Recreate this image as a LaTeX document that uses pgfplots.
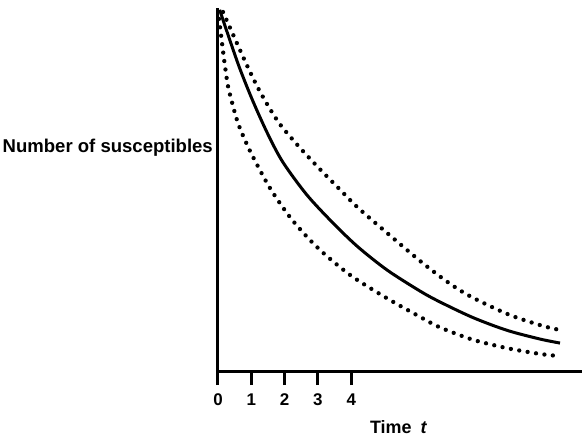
\documentclass[border=0pt]{standalone}
\usepackage{fontspec}
\setmainfont{Liberation Sans}
\usepackage{pgfplots}
\pgfplotsset{compat=1.18}
\begin{document}
\begin{tikzpicture}
\begin{axis}[
  scale only axis,
  width=364bp, height=363bp,
  xmin=0, xmax=10.93, ymin=0, ymax=100,
  axis lines=left,
  axis line style={-, line width=3bp, black},
  xtick={0,1,2,3,4},
  ytick=\empty,
  xtick align=outside,
  major tick length=14bp,
  every tick/.style={black, line width=3bp},
  xticklabel style={font=\fontsize{17}{19}\selectfont\bfseries, yshift=-5bp},
  /pgf/number format/assume math mode=true,
  clip=false,
]
\addplot[black, line width=3bp, smooth, tension=0.5] coordinates {
(0.05,99.5) (0.35,91.3) (0.66,83.2) (1.05,74.3) (1.5,65.2) (1.95,57.5)
(2.67,48.5) (3.45,40.8) (4.2,34.2) (5.08,27.8) (6.07,22.0) (6.67,19.0)
(7.66,14.7) (8.68,11.2) (9.67,8.8) (10.27,7.7)};
\addplot[black, line width=4.3bp, line cap=round, dash pattern=on 0pt off 8.5bp, smooth, tension=0.5] coordinates {
(0.15,98.9) (0.51,91.5) (0.87,84.2) (1.2,78.0) (1.56,72.2) (1.9,67.5)
(2.46,61.5) (3.06,55.6) (3.66,50.0) (4.2,45.0) (5.08,38.0) (6.07,30.3)
(6.76,25.4) (7.27,22.2) (7.78,19.6) (8.77,15.4) (9.76,12.4) (10.27,11.3)};
\addplot[black, line width=4.3bp, line cap=round, dash pattern=on 0pt off 8.5bp, smooth, tension=0.5] coordinates {
(0.03,97) (0.12,90.4) (0.21,84.0) (0.30,78.5) (0.45,73.0) (0.6,68.3)
(0.81,63.6) (1.05,59.0) (1.56,50.4) (2.16,42.4) (2.76,36.1) (3.30,31.4)
(4.05,25.9) (5.08,20.0) (6.07,14.9) (6.67,12.0) (7.66,8.6) (8.68,6.3)
(9.67,4.7) (10.27,4.1)};
\coordinate (O) at (axis cs:0,0);
\node[anchor=base east, inner sep=0pt, font=\fontsize{18.6}{20}\selectfont\bfseries]
  at ([xshift=-5bp]axis cs:0,60.06) {Number of susceptibles};
\node[anchor=base west, inner sep=0pt, font=\fontsize{18}{20}\selectfont\bfseries]
  at ([yshift=-62bp]axis cs:4.56,0) {Time\enspace\textit{t}};
\end{axis}
\pgfresetboundingbox
\path[use as bounding box] ([shift={(-218bp,-65bp)}]O) rectangle ([shift={(364bp,371bp)}]O);
\end{tikzpicture}
\end{document}
